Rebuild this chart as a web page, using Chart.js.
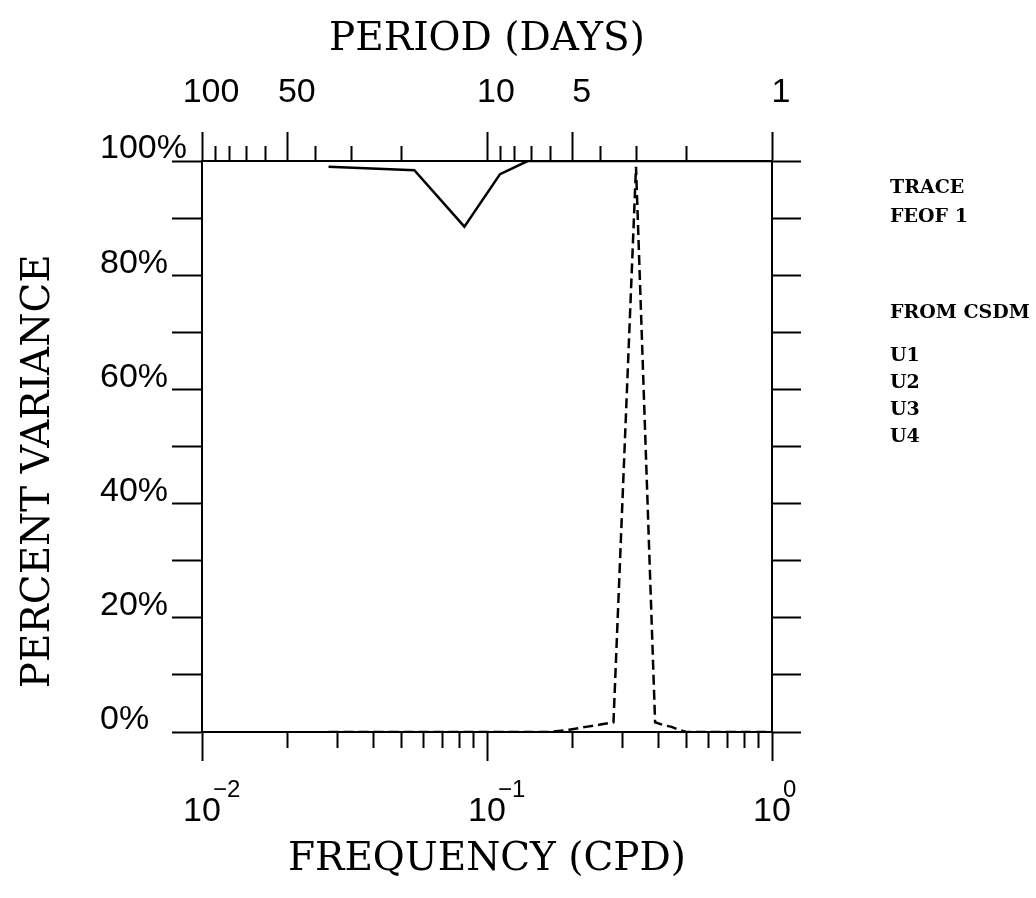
<!DOCTYPE html>
<html>
<head>
<meta charset="utf-8">
<script src="https://cdn.jsdelivr.net/npm/chart.js@4.4.1/dist/chart.umd.min.js"></script>
<style>
  body { margin: 0; background: #fff; }
  canvas { display: block; }
</style>
</head>
<body>
<canvas id="chart" width="1036" height="898"></canvas>
<script>
// --- Data (frequency in cpd, percent variance) ---
const freqSolid = [0.0278, 0.0556, 0.0833, 0.1111, 0.1389, 0.5, 1.0];
const pctSolid  = [99.0, 98.4, 88.5, 97.7, 100, 100, 100];

const freqDashed = [0.0278, 0.1667, 0.1944, 0.2222, 0.25, 0.2778, 0.3333, 0.3889, 0.4167, 0.4444, 0.4722, 0.5, 1.0];
const pctDashed  = [0, 0, 0.4, 0.9, 1.3, 1.7, 99, 1.7, 1.2, 0.9, 0.35, 0, 0];

// --- Axis ticks ---
const freqTicks = [0.01, 0.02, 0.03, 0.04, 0.05, 0.06, 0.07, 0.08, 0.09,
                   0.1, 0.2, 0.3, 0.4, 0.5, 0.6, 0.7, 0.8, 0.9, 1];
const freqDecades = [0.01, 0.1, 1];
const freqExponents = ['\u22122', '\u22121', '0'];

const periodTicks = [100, 90, 80, 70, 60, 50, 40, 30, 20, 10, 9, 8, 7, 6, 5, 4, 3, 2, 1];
const periodLabels = [100, 50, 10, 5, 1];

const noteLines = ['TRACE', 'FEOF 1', 'FROM CSDM', 'U1', 'U2', 'U3', 'U4'];
const noteY = [188, 217, 313, 356, 383, 410, 437];

const near = (a, b) => Math.abs(a - b) < 1e-9 * Math.max(1, b);
const isDecade = v => freqDecades.some(d => near(v, d));
const isPeriodLabel = v => periodLabels.some(d => near(v, d));

Chart.defaults.font.family = '"Liberation Sans", sans-serif';
Chart.defaults.color = '#000';

const TICK = 29;
const titleFont = { family: '"DejaVu Serif", serif', size: 39 };
const tickFont = { family: '"Liberation Sans", sans-serif', size: 34 };

// exponents on the decade labels and the notes on the right
const notesPlugin = {
    id: 'notes',
    afterDraw(chart) {
        const { ctx } = chart;
        const x = chart.scales.x;
        ctx.save();
        ctx.fillStyle = '#000';
        ctx.textAlign = 'left';
        ctx.textBaseline = 'alphabetic';
        ctx.font = '24px "Liberation Sans"';
        freqDecades.forEach((d, i) => {
            ctx.fillText(freqExponents[i], x.getPixelForValue(d) + 11, 797);
        });
        ctx.font = 'bold 19px "DejaVu Serif"';
        ctx.textBaseline = 'middle';
        noteLines.forEach((t, i) => ctx.fillText(t, 890, noteY[i]));
        ctx.restore();
    }
};

const ctx = document.getElementById('chart').getContext('2d');
new Chart(ctx, {
    type: 'line',
    data: {
        datasets: [
            {
                label: 'solid',
                data: freqSolid.map((f, i) => ({ x: f, y: pctSolid[i] })),
                borderColor: '#000',
                borderWidth: 2.5,
                pointRadius: 0,
                tension: 0,
                xAxisID: 'x',
                yAxisID: 'y'
            },
            {
                label: 'dashed',
                data: freqDashed.map((f, i) => ({ x: f, y: pctDashed[i] })),
                borderColor: '#000',
                borderWidth: 2.5,
                borderDash: [10, 5],
                pointRadius: 0,
                tension: 0,
                xAxisID: 'x',
                yAxisID: 'y'
            }
        ]
    },
    options: {
        responsive: false,
        animation: false,
        devicePixelRatio: 1,
        layout: { padding: 0 },
        plugins: {
            legend: { display: false },
            tooltip: { enabled: false }
        },
        scales: {
            x: {
                type: 'logarithmic',
                position: 'bottom',
                min: 0.01,
                max: 1,
                afterBuildTicks: s => { s.ticks = freqTicks.map(v => ({ value: v })); },
                afterFit: s => { s.height = 166; },
                border: { display: true, color: '#000', width: 2 },
                grid: {
                    drawOnChartArea: false,
                    tickLength: TICK,
                    tickColor: '#000',
                    tickWidth: 2,
                    tickBorderDash: c => (c.tick && !isDecade(c.tick.value)) ? [15, 100] : []
                },
                ticks: {
                    autoSkip: false,
                    maxRotation: 0,
                    padding: 30,
                    font: tickFont,
                    callback: v => isDecade(v) ? '10' : ''
                },
                title: {
                    display: true,
                    text: 'FREQUENCY (CPD)',
                    font: titleFont,
                    padding: { top: 0, bottom: 15 }
                }
            },
            x2: {
                type: 'logarithmic',
                position: 'top',
                reverse: true,
                min: 1,
                max: 100,
                afterBuildTicks: s => { s.ticks = periodTicks.map(v => ({ value: v })); },
                afterFit: s => { s.height = 161; },
                border: { display: true, color: '#000', width: 2 },
                grid: {
                    drawOnChartArea: false,
                    tickLength: TICK,
                    tickColor: '#000',
                    tickWidth: 2,
                    tickBorderDash: c => (c.tick && !isPeriodLabel(c.tick.value)) ? [0, TICK - 15, 15, 100] : []
                },
                ticks: {
                    autoSkip: false,
                    maxRotation: 0,
                    padding: 19,
                    labelOffset: 9,
                    font: tickFont,
                    callback: v => isPeriodLabel(v) ? String(v) : ''
                },
                title: {
                    display: true,
                    text: 'PERIOD (DAYS)',
                    font: titleFont,
                    padding: { top: 16, bottom: 0 }
                }
            },
            yTitle: {
                type: 'linear',
                position: 'left',
                weight: 10,
                afterFit: s => { s.width = 100; },
                border: { display: false },
                grid: { display: false },
                ticks: { display: false },
                title: {
                    display: true,
                    // trailing spaces nudge the rotated title down, as in the original
                    text: 'PERCENT VARIANCE    ',
                    font: titleFont,
                    padding: { top: 15, bottom: 0 }
                }
            },
            y: {
                type: 'linear',
                position: 'left',
                weight: 0,
                min: 0,
                max: 100,
                afterFit: s => { s.width = 102; },
                border: { display: true, color: '#000', width: 2 },
                grid: {
                    drawOnChartArea: false,
                    tickLength: 30,
                    tickColor: '#000',
                    tickWidth: 2
                },
                ticks: {
                    stepSize: 10,
                    autoSkip: false,
                    crossAlign: 'far',
                    labelOffset: -12,
                    font: tickFont,
                    callback: v => v % 20 === 0 ? v + '%' : ''
                }
            },
            y2: {
                type: 'linear',
                position: 'right',
                min: 0,
                max: 100,
                afterFit: s => { s.width = 264; },
                border: { display: true, color: '#000', width: 2 },
                grid: {
                    drawOnChartArea: false,
                    tickLength: 29,
                    tickColor: '#000',
                    tickWidth: 2
                },
                ticks: {
                    stepSize: 10,
                    autoSkip: false,
                    display: false
                }
            }
        }
    },
    plugins: [notesPlugin]
});
</script>
</body>
</html>
